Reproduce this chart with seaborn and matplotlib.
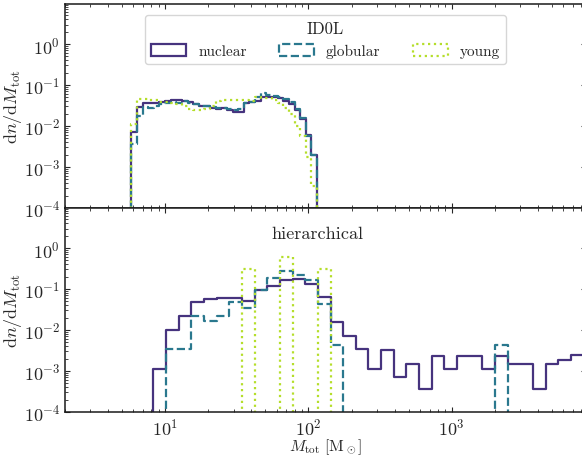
import numpy as np
import matplotlib
matplotlib.use("Agg")
import matplotlib.pyplot as plt
from matplotlib.patches import Patch
import seaborn as sns

# dn/dM per log bin (first / last entries are empty padding bins)
id0l_nuclear = [0, 0.0072, 0.0286, 0.037, 0.036, 0.037, 0.038, 0.040, 0.042, 0.043, 0.041,
                0.038, 0.034, 0.031, 0.031, 0.028, 0.026, 0.027, 0.024, 0.0215, 0.0215,
                0.036, 0.038, 0.040, 0.052, 0.051, 0.050, 0.0475, 0.0415, 0.0344, 0.0249,
                0.0147, 0.0059, 0.0020, 0]
id0l_globular = [0, 0.0036, 0.0177, 0.0295, 0.027, 0.031, 0.034, 0.036, 0.038, 0.037, 0.040,
                 0.037, 0.034, 0.031, 0.030, 0.029, 0.027, 0.027, 0.026, 0.025, 0.026,
                 0.037, 0.038, 0.050, 0.064, 0.058, 0.055, 0.052, 0.046, 0.038, 0.026,
                 0.0153, 0.0057, 0.0020, 0]
id0l_young = [0, 0.0115, 0.046, 0.046, 0.044, 0.042, 0.039, 0.038, 0.036, 0.034, 0.031,
              0.026, 0.025, 0.025, 0.026, 0.031, 0.040, 0.044, 0.044, 0.044, 0.043,
              0.042, 0.040, 0.050, 0.049, 0.047, 0.042, 0.036, 0.028, 0.020, 0.010,
              0.0057, 0.0018, 0.00034, 0]

hier_nuclear = [0, 0.0011, 0.0100, 0.022, 0.047, 0.056, 0.060, 0.062, 0.052, 0.097, 0.117,
                0.162, 0.18, 0.136, 0.064, 0.016, 0.007, 0.0034, 0.0011, 0.0032, 0.00073,
                0.0015, 0.00037, 0.0023, 0.0011, 0.0023, 0.0023, 0.0011, 0.0023, 0.0015,
                0.0015, 0.00037, 0.0015, 0.0019, 0.0025]
hier_globular = [0, 0, 0.0035, 0.0035, 0.022, 0.017, 0.022, 0.049, 0.035, 0.097, 0.19,
                 0.27, 0.22, 0.17, 0.042, 0.0042, 0, 0, 0, 0, 0,
                 0, 0, 0, 0, 0, 0, 0, 0.0042, 0, 0,
                 0, 0, 0, 0]
hier_young = [0, 0, 0, 0, 0, 0, 0, 0, 0.30, 0, 0,
              0.59, 0, 0, 0.30, 0, 0, 0, 0, 0, 0,
              0, 0, 0, 0, 0, 0, 0, 0, 0, 0,
              0, 0, 0, 0]

channels = ["nuclear", "globular", "young"]
colors = ["#46337e", "#2a788e", "#b5de2b"]
styles = ["-", "--", ":"]

# log-spaced bin edges (Msun)
id0l_edges = np.logspace(0.724, 0.724 + 35 * 0.0393, 36)
hier_edges = np.logspace(0.8297, 0.8297 + 35 * 0.0883, 36)

sns.set_style("ticks")
plt.rcParams.update({
    "font.family": "serif",
    "font.serif": ["cmr10"],
    "mathtext.fontset": "cm",
    "axes.formatter.use_mathtext": True,
    "font.size": 11,
    "axes.edgecolor": "0.1",
    "axes.linewidth": 1.1,
    "text.color": "0.15",
    "xtick.direction": "in",
    "ytick.direction": "in",
    "xtick.top": True,
    "ytick.right": True,
    "xtick.labelsize": 13,
    "ytick.labelsize": 13,
})

fig, axes = plt.subplots(2, 1, figsize=(5.82, 4.56), dpi=100, sharex=True)
fig.subplots_adjust(left=65 / 582, right=586 / 582, top=1 - 5 / 456,
                    bottom=1 - 413 / 456, hspace=0)

panels = [(id0l_edges, [id0l_nuclear, id0l_globular, id0l_young]),
          (hier_edges, [hier_nuclear, hier_globular, hier_young])]

for ax, (edges, series) in zip(axes, panels):
    centers = np.sqrt(edges[:-1] * edges[1:])
    for vals, c, ls in zip(series, colors, styles):
        sns.histplot(x=centers, weights=vals, bins=list(edges), element="step", fill=False,
                     color=c, linestyle=ls, linewidth=1.6, ax=ax)

for ax in axes:
    ax.set_xscale("log")
    ax.set_yscale("log")
    ax.set_xlim(2, 8650)
    ax.set_ylim(1e-4, 9.5)
    ax.set_ylabel(r"$\mathrm{d}n/\mathrm{d}M_\mathrm{tot}$", fontsize=13)
    ax.yaxis.set_label_coords(-0.079, 0.5)
    ax.tick_params(which="both", direction="in", top=True, right=True)
    ax.tick_params(which="major", length=3.5)
    ax.tick_params(which="minor", length=2)

axes[1].set_xlabel(r"$M_\mathrm{tot}\ [\mathrm{M}_\odot]$", fontsize=11.5, labelpad=-1)

handles = [Patch(facecolor="none", edgecolor=c, linestyle=ls, linewidth=1.6, label=n)
           for n, c, ls in zip(channels, colors, styles)]
axes[0].legend(handles=handles, title="ID0L", loc="upper center", ncol=3,
               handlelength=2.3, handleheight=0.85, columnspacing=2.1, fontsize=11,
               title_fontsize=12, borderaxespad=0.7, frameon=True)
axes[1].text(0.484, 0.877, "hierarchical", transform=axes[1].transAxes,
             ha="center", va="center", fontsize=13)

fig.savefig("out.png", dpi=100)
